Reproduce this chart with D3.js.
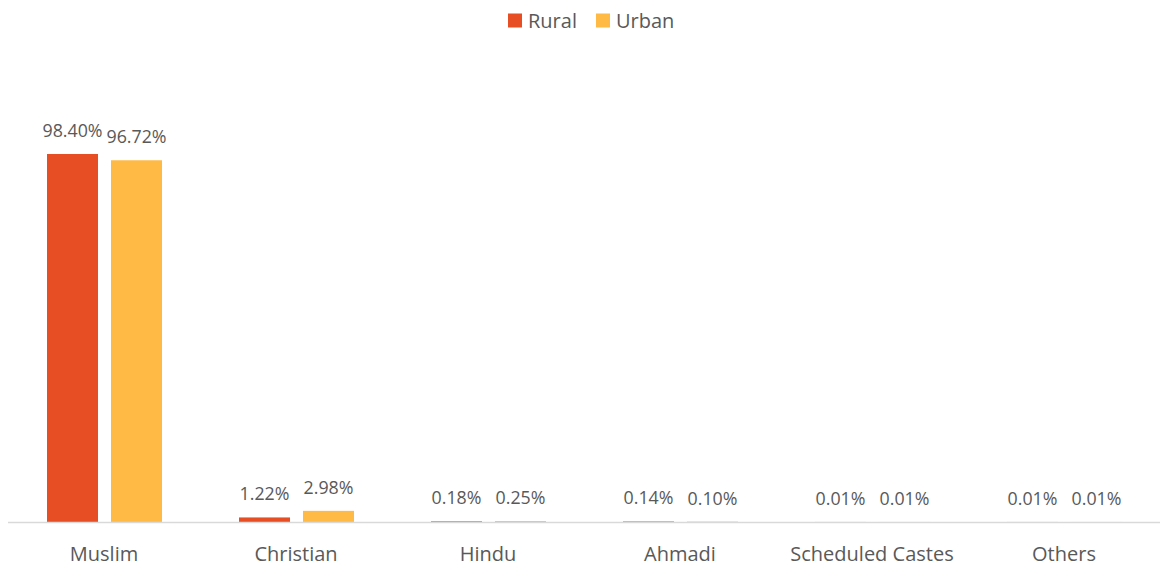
<!DOCTYPE html>
<html>
<head>
<meta charset="utf-8">
<script src="https://cdn.jsdelivr.net/npm/d3@7"></script>
<style>
  body { margin: 0; background: #fff; }
  text { font-family: "Open Sans", "Liberation Sans", sans-serif; fill: #595959; }
</style>
</head>
<body>
<div id="chart"></div>
<script>
const categories = ['Muslim', 'Christian', 'Hindu', 'Ahmadi', 'Scheduled Castes', 'Others'];
const seriesNames = ['Rural', 'Urban'];
const rural = [98.40, 1.22, 0.18, 0.14, 0.01, 0.01];
const urban = [96.72, 2.98, 0.25, 0.10, 0.01, 0.01];
const colors = ['#E84E23', '#FFBA45'];

const width = 1161, height = 566;
const svg = d3.select('#chart').append('svg')
    .attr('width', width)
    .attr('height', height);

const baseY = 522;
const x0 = d3.scaleBand().domain(categories).range([8, 1160]);
// bars inside each category band
const x1 = d3.scaleBand().domain(seriesNames).range([39, 154]).paddingInner(0.203);
const y = d3.scaleLinear().domain([0, 100]).range([baseY, 148]);

const rows = categories.map((c, i) => ({cat: c, vals: [rural[i], urban[i]]}));

const groups = svg.selectAll('g.cat')
    .data(rows)
    .enter().append('g')
    .attr('class', 'cat')
    .attr('transform', d => `translate(${x0(d.cat)},0)`);

groups.selectAll('rect')
    .data(d => d.vals.map((v, j) => ({name: seriesNames[j], v: v, j: j})))
    .enter().append('rect')
    .attr('x', d => x1(d.name))
    .attr('y', d => y(d.v))
    .attr('width', x1.bandwidth())
    .attr('height', d => baseY - y(d.v))
    .attr('fill', d => colors[d.j]);

groups.selectAll('text.val')
    .data(d => d.vals.map((v, j) => ({name: seriesNames[j], v: v})))
    .enter().append('text')
    .attr('class', 'val')
    .attr('x', d => x1(d.name) + x1.bandwidth() / 2)
    .attr('y', d => y(d.v) - 17)
    .attr('text-anchor', 'middle')
    .style('font-size', '17.8px')
    .text(d => d.v.toFixed(2) + '%');

// axis line
svg.append('line')
    .attr('x1', 8).attr('x2', 1160)
    .attr('y1', baseY + 0.5).attr('y2', baseY + 0.5)
    .attr('stroke', '#d9d9d9')
    .attr('stroke-width', 1.5);

// category labels
svg.selectAll('text.cat')
    .data(categories)
    .enter().append('text')
    .attr('class', 'cat')
    .attr('x', d => x0(d) + x0.bandwidth() / 2)
    .attr('y', 561)
    .attr('text-anchor', 'middle')
    .style('font-size', '20px')
    .text(d => d);

// legend
const legendX = [508, 596];
const legend = svg.selectAll('g.legend')
    .data(seriesNames)
    .enter().append('g')
    .attr('class', 'legend')
    .attr('transform', (d, i) => `translate(${legendX[i]},0)`);
legend.append('rect')
    .attr('x', 0).attr('y', 13.5)
    .attr('width', 14).attr('height', 14)
    .attr('fill', (d, i) => colors[i]);
legend.append('text')
    .attr('x', 20).attr('y', 27.5)
    .style('font-size', '20px')
    .text(d => d);
</script>
</body>
</html>
